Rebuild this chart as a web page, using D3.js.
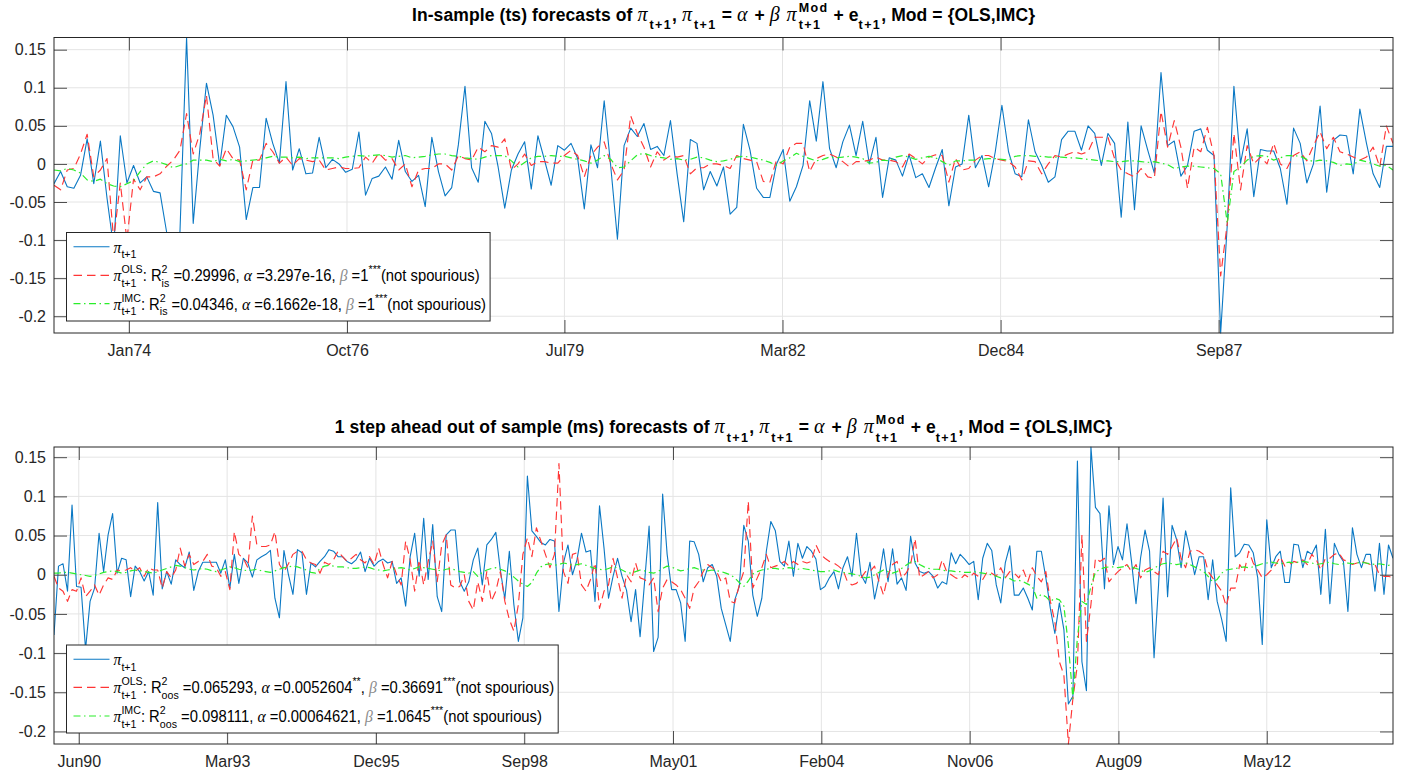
<!DOCTYPE html>
<html><head><meta charset="utf-8">
<script src="https://cdn.jsdelivr.net/npm/d3@7"></script>
<style>body{margin:0;background:#fff}text{white-space:pre}</style>
</head><body>
<svg id="chart" width="1411" height="782" xmlns="http://www.w3.org/2000/svg"></svg>
<script>
// ---------------- DATA ----------------
const topPi = [
-0.026,-0.010,-0.030,-0.032,-0.015,0.033,-0.026,0.030,-0.045,-0.110,
0.037,-0.025,-0.002,-0.025,-0.017,-0.036,-0.038,-0.090,-0.120,-0.090,
0.166,-0.078,0.020,0.106,0.064,-0.002,0.064,0.049,0.022,-0.073,
-0.031,-0.031,0.060,0.027,0.001,0.108,-0.008,0.020,-0.013,-0.012,
0.035,-0.005,0.006,0.000,-0.011,-0.007,0.042,-0.041,-0.019,-0.016,
-0.004,-0.020,0.031,-0.010,-0.023,-0.015,-0.056,0.035,-0.010,-0.042,
-0.031,0.025,0.102,-0.005,-0.024,0.056,0.040,-0.004,-0.058,-0.008,
0.013,0.029,-0.033,0.037,0.005,-0.028,0.024,0.018,0.027,0.007,
-0.059,0.025,-0.005,0.083,-0.004,-0.099,0.024,0.047,0.036,0.053,
0.019,0.023,0.011,0.057,-0.013,-0.076,0.032,0.027,-0.034,-0.010,
-0.029,-0.004,-0.066,-0.057,0.052,0.018,-0.032,-0.044,-0.044,0.000,
0.019,-0.049,-0.030,-0.002,0.083,0.030,0.108,0.020,-0.005,0.029,
0.051,0.011,0.056,0.000,0.035,-0.044,0.008,0.005,-0.016,0.012,
-0.018,-0.013,-0.031,-0.005,0.019,-0.055,-0.004,0.000,0.064,-0.005,
0.011,-0.030,0.016,0.077,0.016,-0.013,-0.017,0.058,0.016,-0.002,
-0.024,-0.017,0.032,0.043,0.043,0.018,0.050,0.040,-0.002,0.040,
0.027,-0.070,0.055,-0.060,0.050,0.018,-0.012,0.120,0.024,0.030,
-0.016,-0.002,0.043,0.046,0.018,0.011,-0.222,-0.080,0.102,0.001,
0.046,-0.043,0.019,0.017,0.017,-0.006,-0.053,0.047,0.027,-0.025,
0.000,0.076,-0.037,0.031,0.038,0.037,-0.013,0.072,0.027,-0.013,
-0.031,0.023,0.023];
const topOLS = [
-0.028,-0.034,-0.008,-0.006,0.013,0.039,-0.017,-0.008,0.007,-0.100,
-0.025,-0.100,-0.020,-0.034,-0.017,-0.017,-0.013,-0.003,0.005,0.018,
0.066,0.013,0.040,0.090,0.007,-0.003,0.020,0.007,0.005,-0.034,
0.005,0.005,0.027,0.016,0.001,0.009,-0.002,0.007,0.005,0.003,
0.005,-0.008,-0.006,-0.004,-0.006,-0.006,-0.005,0.009,0.001,0.014,
0.005,0.007,-0.008,0.000,-0.030,-0.008,-0.006,-0.006,0.000,0.000,
-0.008,0.011,0.007,0.005,0.022,0.016,0.024,0.022,0.033,-0.008,
0.000,0.013,-0.002,0.003,0.003,0.001,0.001,0.011,0.018,0.011,
-0.017,0.011,0.022,0.029,0.000,-0.021,-0.008,0.063,0.040,0.022,
-0.004,0.016,0.005,0.011,0.009,0.011,-0.013,-0.005,-0.005,0.000,
0.000,-0.002,-0.006,0.011,0.007,0.005,0.003,-0.023,-0.024,0.005,
0.000,0.022,0.027,0.027,-0.010,0.007,0.011,0.013,0.009,0.003,
-0.004,0.003,0.003,0.005,0.009,0.005,0.005,0.003,-0.004,0.013,
0.007,0.000,0.009,0.012,0.011,-0.024,0.007,-0.008,-0.006,0.005,
0.011,0.011,0.007,0.005,0.003,-0.004,-0.021,0.004,0.003,-0.013,
0.000,0.011,0.009,0.013,0.016,0.013,0.016,0.035,0.035,0.035,
0.007,-0.008,-0.013,-0.017,-0.006,-0.017,-0.019,0.069,0.022,0.057,
0.022,-0.032,0.022,0.016,0.048,0.011,-0.147,-0.078,0.040,-0.034,
0.024,0.000,0.009,0.000,0.027,0.000,-0.006,0.011,0.016,0.004,
0.024,0.042,0.020,0.035,0.016,0.013,0.009,0.005,0.009,0.022,
-0.004,0.050,0.027];
const topIMC = [
-0.008,-0.009,-0.006,-0.008,-0.012,-0.021,-0.023,-0.020,-0.026,-0.029,
-0.030,-0.026,-0.022,-0.010,0.000,0.004,0.002,-0.001,-0.005,-0.002,
0.000,0.005,0.005,0.005,0.003,0.006,0.004,0.006,0.003,0.004,
0.005,0.006,0.008,0.010,0.009,0.009,0.008,0.009,0.007,0.008,
0.008,0.008,0.008,0.007,0.009,0.010,0.011,0.010,0.011,0.012,
0.011,0.009,0.010,0.011,0.008,0.009,0.010,0.012,0.013,0.013,
0.011,0.010,0.008,0.007,0.006,0.009,0.011,0.011,0.011,0.004,
-0.004,0.002,0.008,0.010,0.010,0.011,0.010,0.010,0.008,0.006,
0.004,0.001,0.005,0.011,0.006,-0.005,-0.004,0.004,0.012,0.014,
0.011,0.009,0.008,0.006,0.007,0.005,0.006,0.009,0.008,0.005,
0.003,0.004,0.006,0.009,0.010,0.009,0.007,0.005,0.002,-0.002,
0.004,0.008,0.014,0.010,0.007,0.004,0.006,0.009,0.008,0.009,
0.010,0.009,0.007,0.001,0.002,0.005,0.004,0.009,0.011,0.009,
0.006,0.008,0.010,0.008,0.003,-0.002,0.004,0.004,0.005,0.005,
0.006,0.007,0.007,0.006,0.005,0.010,0.011,0.011,0.010,0.010,
0.009,0.009,0.009,0.008,0.008,0.007,0.006,0.005,0.004,0.004,
0.003,0.003,0.004,0.004,0.003,0.002,0.003,0.001,-0.001,-0.006,
-0.004,-0.003,-0.003,-0.004,-0.005,-0.006,-0.013,-0.078,-0.010,-0.004,
0.005,0.010,0.011,0.010,0.005,0.008,0.011,0.011,0.010,0.006,
0.003,0.005,0.004,0.002,-0.002,0.000,-0.001,0.005,0.003,0.000,
-0.003,-0.002,-0.008];

const botPi = [
-0.077,0.011,0.014,-0.021,0.089,-0.015,-0.016,-0.095,-0.034,-0.017,
0.053,0.004,0.051,0.078,0.002,0.021,0.019,-0.028,0.011,0.004,
-0.008,0.004,-0.026,0.092,-0.018,0.004,-0.012,0.019,0.013,0.009,
0.029,-0.020,0.004,0.016,0.016,0.016,0.016,0.002,0.019,-0.017,
0.026,-0.011,0.021,0.015,-0.003,0.019,0.023,0.026,0.031,-0.030,
-0.055,0.031,0.000,-0.025,0.032,0.028,-0.025,0.015,0.010,0.017,
0.023,0.032,0.030,0.023,0.023,0.017,0.014,0.019,0.029,0.004,
0.021,0.011,0.017,0.020,0.015,0.017,-0.011,-0.004,-0.040,0.023,
0.053,-0.002,0.072,-0.006,0.064,-0.028,-0.047,0.051,0.057,0.057,
-0.009,-0.021,-0.009,0.019,0.034,-0.013,0.038,0.045,0.054,0.006,
-0.031,0.030,-0.038,-0.085,-0.055,0.126,0.056,0.049,0.041,0.038,
0.045,0.043,-0.047,0.015,0.038,0.000,0.019,0.053,0.029,0.031,
-0.034,0.088,0.034,-0.030,-0.002,0.021,-0.002,-0.020,-0.060,-0.019,
-0.079,-0.009,0.062,-0.098,-0.080,0.103,0.026,-0.019,-0.019,-0.036,
-0.085,0.043,0.042,0.026,-0.009,0.009,0.013,-0.002,-0.043,
-0.064,-0.085,-0.032,-0.015,0.063,0.043,-0.026,-0.053,-0.030,0.030,
0.068,0.056,0.017,0.011,0.043,-0.002,0.040,0.021,0.036,0.030,
0.020,-0.019,-0.015,-0.004,0.004,-0.018,0.009,0.023,-0.002,0.053,
0.000,-0.011,0.016,-0.031,-0.004,0.033,-0.009,0.033,-0.012,-0.004,
-0.020,0.049,0.015,0.004,0.002,0.004,-0.002,-0.017,-0.009,-0.012,
0.028,0.014,0.026,0.020,0.013,0.017,-0.032,0.021,0.040,0.031,
-0.013,-0.036,0.015,0.037,-0.026,-0.026,-0.017,-0.030,-0.045,0.030,
0.030,-0.004,-0.043,-0.075,-0.036,-0.070,-0.165,-0.155,0.145,-0.111,
-0.148,0.163,0.086,0.078,-0.018,0.088,0.013,0.036,0.019,0.065,
0.017,-0.037,0.021,0.057,0.030,-0.106,-0.013,0.098,-0.028,0.063,
0.045,0.009,0.056,0.030,0.000,0.023,0.023,-0.032,0.019,-0.034,
-0.057,-0.085,0.111,0.023,0.028,0.039,0.038,0.028,-0.004,-0.089,
0.070,0.009,0.023,0.030,-0.010,-0.010,0.039,0.038,0.009,0.030,
0.026,0.038,-0.025,0.058,-0.037,0.040,0.026,0.017,-0.047,0.060,
0.026,0.009,0.026,0.026,-0.021,0.040,-0.025,0.038,0.021];
const botOLS = [
-0.002,-0.017,-0.021,-0.034,-0.019,-0.021,-0.004,-0.028,-0.021,-0.013,
-0.026,-0.013,-0.004,-0.006,0.006,0.005,0.006,0.009,0.004,0.009,
-0.002,0.009,0.006,0.006,-0.017,0.004,-0.004,0.006,0.034,0.011,
0.026,0.013,0.017,0.017,0.026,0.011,0.009,-0.002,0.004,-0.019,
0.055,0.026,0.021,0.009,0.075,0.038,0.036,0.036,0.038,0.055,
0.013,0.004,0.014,0.026,0.030,0.030,0.019,0.015,0.013,0.002,
0.016,0.013,0.019,0.030,0.023,0.017,0.021,0.026,0.019,0.015,
0.023,0.013,0.034,0.013,-0.004,0.017,0.000,-0.013,0.043,0.019,
-0.021,0.019,-0.013,0.017,0.043,-0.009,0.038,0.051,-0.013,-0.017,
-0.015,0.000,-0.034,-0.045,-0.009,-0.034,0.004,-0.034,-0.021,0.004,
-0.034,-0.057,-0.072,-0.038,0.026,0.047,0.023,0.060,0.043,0.026,
0.009,0.026,0.142,0.004,-0.011,0.026,0.028,-0.013,-0.021,-0.006,
0.015,-0.043,-0.021,-0.013,0.021,-0.004,-0.030,0.000,-0.009,0.015,
-0.004,-0.006,-0.013,-0.004,-0.047,-0.017,-0.006,-0.009,-0.013,-0.019,
-0.030,-0.043,-0.017,-0.009,0.004,0.013,0.009,0.004,-0.009,
-0.004,-0.034,-0.036,-0.013,0.004,0.094,-0.017,-0.004,0.009,0.026,
0.009,0.011,0.013,0.017,0.011,0.017,0.013,0.017,0.015,0.017,
0.038,0.026,0.021,0.017,0.015,0.011,0.006,-0.009,-0.013,-0.011,
-0.004,0.004,0.004,0.011,-0.009,-0.026,0.000,0.013,0.017,-0.004,
0.002,0.013,0.046,-0.004,0.000,0.004,-0.004,0.000,0.019,0.004,
0.000,-0.004,-0.006,0.000,-0.004,0.002,-0.002,-0.006,0.004,0.002,
-0.002,0.009,-0.004,0.004,0.002,-0.004,0.006,-0.009,0.009,-0.002,
-0.009,0.004,-0.034,-0.060,-0.111,-0.128,-0.216,-0.158,-0.115,0.051,
-0.085,-0.038,0.021,0.017,0.021,-0.009,-0.002,0.004,0.009,0.013,
0.004,0.013,-0.004,0.006,0.009,0.004,0.000,0.030,0.026,0.036,
0.047,0.021,0.009,0.030,0.032,0.030,0.026,0.004,-0.004,-0.013,
-0.021,-0.040,-0.017,-0.017,0.013,0.004,0.030,0.015,0.006,-0.004,
0.000,0.006,0.013,0.023,0.011,0.013,0.017,0.015,0.019,0.013,
0.026,0.019,0.006,0.021,0.021,0.026,0.028,0.019,0.017,0.013,
0.015,0.017,0.015,0.013,0.013,0.000,-0.002,-0.002,-0.004];
const botIMC = [
0.002,0.002,0.003,0.003,0.002,0.001,0.000,-0.001,-0.002,-0.001,
0.001,0.003,0.004,0.005,0.004,0.002,0.003,0.005,0.006,0.005,
0.004,0.003,0.002,0.004,0.006,0.008,0.010,0.012,0.011,0.009,
0.007,0.006,0.007,0.008,0.007,0.005,0.004,0.006,0.008,0.010,
0.009,0.007,0.006,0.005,0.006,0.007,0.005,0.004,0.003,0.005,
0.007,0.009,0.010,0.011,0.010,0.008,0.006,0.003,0.002,0.008,
0.011,0.012,0.011,0.010,0.010,0.009,0.008,0.008,0.009,0.010,
0.009,0.007,0.006,0.005,0.006,0.007,0.008,0.009,0.008,0.006,
0.008,0.010,0.009,0.008,0.007,0.006,0.005,0.007,0.008,0.006,
0.004,0.003,0.002,0.004,-0.002,0.003,0.006,0.008,0.009,0.007,
0.005,0.001,-0.003,-0.008,-0.012,-0.015,-0.010,0.002,0.010,0.013,
0.014,0.012,0.013,0.015,0.014,0.012,0.013,0.014,0.012,0.010,
0.008,0.007,0.006,0.008,0.010,0.009,0.006,0.003,0.002,0.004,
0.006,0.005,0.003,0.002,0.004,0.008,0.011,0.010,0.007,0.005,
0.006,0.008,0.009,0.007,0.006,0.005,0.006,0.005,0.004,
0.002,0.000,-0.004,-0.010,-0.015,-0.008,0.001,0.004,0.006,0.007,
0.008,0.008,0.007,0.008,0.009,0.008,0.007,0.008,0.007,0.006,
0.005,0.004,0.004,0.005,0.006,0.004,0.003,0.002,0.001,0.000,
-0.002,-0.004,-0.003,0.000,0.003,0.006,0.004,0.002,0.004,0.008,
0.012,0.016,0.017,0.013,0.010,0.008,0.007,0.007,0.006,0.005,
0.005,0.004,0.004,0.003,0.003,0.004,0.003,0.002,0.001,0.000,
-0.002,-0.004,-0.003,-0.005,-0.008,-0.007,-0.009,-0.012,-0.015,-0.030,
-0.025,-0.028,-0.034,-0.030,-0.032,-0.040,-0.090,-0.158,-0.080,-0.034,
-0.038,-0.015,0.003,0.007,0.009,0.010,0.010,0.009,0.010,0.011,
0.010,0.008,0.006,0.003,0.005,0.008,0.012,0.014,0.015,0.014,
0.013,0.014,0.015,0.013,0.010,0.007,0.004,-0.002,-0.009,-0.006,
0.002,0.006,0.007,0.008,0.009,0.010,0.009,0.010,0.012,0.014,
0.015,0.016,0.015,0.014,0.015,0.016,0.015,0.016,0.017,0.016,
0.015,0.013,0.014,0.015,0.016,0.014,0.013,0.014,0.015,0.014,
0.015,0.016,0.015,0.014,0.013,0.014,0.013,0.012,0.013];

const yTickValues = [0.15, 0.1, 0.05, 0, -0.05, -0.1, -0.15, -0.2];
const yTickLabels = ["0.15", "0.1", "0.05", "0", "-0.05", "-0.1", "-0.15", "-0.2"];
const topXTickIdx = [11.3, 44.2, 77.0, 109.9, 142.8, 175.7];
const topXTickLabels = ["Jan74", "Oct76", "Jul79", "Mar82", "Dec84", "Sep87"];
const botXTickIdx = [5.5, 38.4, 71.4, 104.3, 137.3, 170.2, 203.1, 236.1, 269.0];
const botXTickLabels = ["Jun90", "Mar93", "Dec95", "Sep98", "May01", "Feb04", "Nov06", "Aug09", "May12"];

const titleTop = [["n","In-sample (ts) forecasts of "],["g","π"],["sub","t+1"],["n",", "],["g","π"],["sub","t+1"],["n"," = "],["g","α"],["n"," + "],["g","β"],["n"," "],["g","π"],["ss","Mod","t+1"],["n"," + e"],["sub","t+1"],["n",", Mod = {OLS,IMC}"]];
const titleBot = [["n","1 step ahead out of sample (ms) forecasts of "],["g","π"],["sub","t+1"],["n",", "],["g","π"],["sub","t+1"],["n"," = "],["g","α"],["n"," + "],["g","β"],["n"," "],["g","π"],["ss","Mod","t+1"],["n"," + e"],["sub","t+1"],["n",", Mod = {OLS,IMC}"]];

const legendTop = [
  [["g","π"],["sub","t+1"]],
  [["g","π"],["ss","OLS","t+1"],["n",": R"],["ss","2","is"],["n"," =0.29996, "],["g","α"],["n"," =3.297e-16, "],["gg","β"],["n"," =1"],["sup","***"],["n","(not spourious)"]],
  [["g","π"],["ss","IMC","t+1"],["n",": R"],["ss","2","is"],["n"," =0.04346, "],["g","α"],["n"," =6.1662e-18, "],["gg","β"],["n"," =1"],["sup","***"],["n","(not spourious)"]]
];
const legendBot = [
  [["g","π"],["sub","t+1"]],
  [["g","π"],["ss","OLS","t+1"],["n",": R"],["ss","2","oos"],["n"," =0.065293, "],["g","α"],["n"," =0.0052604"],["sup","**"],["n",", "],["gg","β"],["n"," =0.36691"],["sup","***"],["n","(not spourious)"]],
  [["g","π"],["ss","IMC","t+1"],["n",": R"],["ss","2","oos"],["n"," =0.098111, "],["g","α"],["n"," =0.00064621, "],["gg","β"],["n"," =1.0645"],["sup","***"],["n","(not spourious)"]]
];

// ---------------- STYLE / LAYOUT ----------------
const SANS = "'Liberation Sans', Arial, Helvetica, sans-serif";
const SERIF = "'Liberation Serif', 'DejaVu Serif', serif";
const styles = [
  {color: "#0a78c4", width: 1.1, dash: null},
  {color: "#ff3535", width: 1.15, dash: "8.5,5"},
  {color: "#2aee2a", width: 1.2, dash: "7,3.5,1.5,3.5"}
];
const svg = d3.select("#chart");

function rich(g, tokens, x, y, o) {
  const grp = g.append("g");
  let cx = 0;
  function add(str, size, px, dy, greek, gray, bold, ls) {
    const t = grp.append("text").attr("x", px).attr("y", dy)
      .attr("xml:space", "preserve")
      .attr("font-size", size)
      .attr("font-family", greek ? SERIF : SANS)
      .attr("font-weight", bold ? "bold" : "normal")
      .attr("font-style", greek ? "italic" : "normal")
      .attr("letter-spacing", ls || 0)
      .attr("fill", gray ? "#8c8c8c" : o.color)
      .text(str);
    return t.node().getComputedTextLength();
  }
  tokens.forEach(tk => {
    const k = tk[0];
    if (k === "ss") {
      const a = add(tk[1], o.ss, cx, -o.sup, false, false, o.bold, o.sls);
      const b = add(tk[2], o.ss, cx, o.sub, false, false, o.bold, o.sls);
      cx += Math.max(a, b);
    } else if (k === "sup") cx += add(tk[1], o.ss, cx, -o.sup, false, false, o.bold, o.sls);
    else if (k === "sub") cx += add(tk[1], o.ss, cx, o.sub, false, false, o.bold, o.sls);
    else if (k === "g" || k === "gg") cx += add(tk[1], o.gs || o.fs, cx, 0, true, k === "gg", false, o.gls);
    else cx += add(tk[1], o.fs, cx, 0, false, false, o.bold, o.ls);
  });
  const sx = o.sx || 1;
  const w = cx * sx;
  const x0 = o.anchor === "middle" ? x - w / 2 : x;
  grp.attr("transform", `translate(${x0},${y}) scale(${sx},1)`);
  return w;
}

function panel(id, box, series, tickIdx, tickLabels, title, titleY, legend, leg) {
  const n = series[0].length;
  const x = d3.scaleLinear().domain([0, n - 1]).range([box.l, box.r]);
  const ext = d3.extent(series.flat());
  const y = d3.scaleLinear().domain(ext).range([box.b, box.t]);
  const g = svg.append("g");

  // grid
  g.append("g").selectAll("line").data(yTickValues).join("line")
    .attr("x1", box.l).attr("x2", box.r).attr("y1", d => y(d)).attr("y2", d => y(d))
    .attr("stroke", "#e4e4e4").attr("stroke-width", 1);
  g.append("g").selectAll("line").data(tickIdx).join("line")
    .attr("y1", box.t).attr("y2", box.b).attr("x1", d => x(d)).attr("x2", d => x(d))
    .attr("stroke", "#e4e4e4").attr("stroke-width", 1);

  // data
  g.append("clipPath").attr("id", "clip" + id).append("rect")
    .attr("x", box.l).attr("y", box.t - 1).attr("width", box.r - box.l).attr("height", box.b - box.t + 2);
  const line = d3.line().x((d, i) => x(i)).y(d => y(d));
  const dg = g.append("g").attr("clip-path", `url(#clip${id})`);
  series.forEach((s, i) => {
    dg.append("path").datum(s).attr("d", line).attr("fill", "none")
      .attr("stroke", styles[i].color).attr("stroke-width", styles[i].width)
      .attr("stroke-dasharray", styles[i].dash).attr("stroke-linejoin", "round");
  });

  // axes
  const fmtY = (d) => yTickLabels[yTickValues.indexOf(d)];
  const fmtX = (d) => tickLabels[tickIdx.indexOf(d)];
  const styleAxis = (a) => {
    a.select(".domain").remove();
    a.selectAll(".tick line").attr("stroke", "#4d4d4d").attr("stroke-width", 1);
    a.selectAll(".tick text").attr("fill", "#262626").attr("font-size", 16).attr("font-family", SANS);
  };
  g.append("g").attr("transform", `translate(${box.l},0)`)
    .call(d3.axisLeft(y).tickValues(yTickValues).tickFormat(fmtY).tickSize(-13).tickPadding(8)).call(styleAxis);
  g.append("g").attr("transform", `translate(${box.r},0)`)
    .call(d3.axisRight(y).tickValues(yTickValues).tickFormat("").tickSize(-13)).call(styleAxis);
  g.append("g").attr("transform", `translate(0,${box.b})`)
    .call(d3.axisBottom(x).tickValues(tickIdx).tickFormat(fmtX).tickSize(-13).tickPadding(12)).call(styleAxis);
  g.append("g").attr("transform", `translate(0,${box.t})`)
    .call(d3.axisTop(x).tickValues(tickIdx).tickFormat("").tickSize(-13)).call(styleAxis);
  g.append("rect").attr("x", box.l).attr("y", box.t).attr("width", box.r - box.l).attr("height", box.b - box.t)
    .attr("fill", "none").attr("stroke", "#262626").attr("stroke-width", 1);

  // title
  rich(g, title, (box.l + box.r) / 2, titleY, {fs: 17.5, gs: 20, ss: 12.5, sup: 9, sub: 8.5, bold: true, color: "#000", anchor: "middle", ls: 0.1, sls: 1.4, gls: 2});

  // legend
  const lg = g.append("g");
  const bg = lg.append("rect").attr("x", leg.x).attr("y", leg.y).attr("height", leg.h)
    .attr("fill", "#fff").attr("stroke", "#262626").attr("stroke-width", 1);
  let maxW = 0;
  legend.forEach((row, i) => {
    const ly = leg.rows[i];
    lg.append("line").attr("x1", leg.x + 7).attr("x2", leg.x + 43).attr("y1", ly).attr("y2", ly)
      .attr("stroke", styles[i].color).attr("stroke-width", styles[i].width).attr("stroke-dasharray", styles[i].dash);
    const w = rich(lg, row, leg.x + 47, ly + 6, {fs: 16, gs: 17, ss: 11.5, sup: 8, sub: 5.5, bold: false, color: "#000", anchor: "start", sx: 0.925});
    maxW = Math.max(maxW, w);
  });
  bg.attr("width", 47 + maxW + 4);
}

panel("t", {l: 54, r: 1393, t: 37.5, b: 333}, [topPi, topOLS, topIMC], topXTickIdx, topXTickLabels,
  titleTop, 20.5, legendTop, {x: 66.5, y: 232.5, h: 88.5, rows: [246.7, 275.3, 303.7]});
panel("b", {l: 54, r: 1393, t: 447, b: 744}, [botPi, botOLS, botIMC], botXTickIdx, botXTickLabels,
  titleBot, 433, legendBot, {x: 66.5, y: 645, h: 88, rows: [659.3, 687.3, 716]});
</script>
</body></html>
